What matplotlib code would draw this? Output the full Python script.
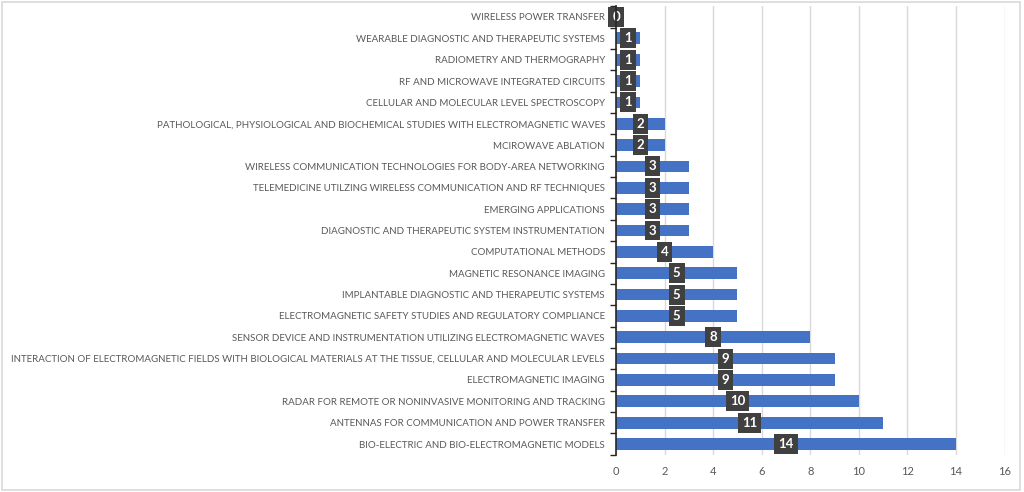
import matplotlib.pyplot as plt
from matplotlib.patches import Rectangle

# categories listed from bottom to top as drawn
categories = [
    "BIO-ELECTRIC AND BIO-ELECTROMAGNETIC MODELS",
    "ANTENNAS FOR COMMUNICATION AND POWER TRANSFER",
    "RADAR FOR REMOTE OR NONINVASIVE MONITORING AND TRACKING",
    "ELECTROMAGNETIC IMAGING",
    "INTERACTION OF ELECTROMAGNETIC FIELDS WITH BIOLOGICAL MATERIALS AT THE TISSUE, CELLULAR AND MOLECULAR LEVELS",
    "SENSOR DEVICE AND INSTRUMENTATION UTILIZING ELECTROMAGNETIC WAVES",
    "ELECTROMAGNETIC SAFETY STUDIES AND REGULATORY COMPLIANCE",
    "IMPLANTABLE DIAGNOSTIC AND THERAPEUTIC SYSTEMS",
    "MAGNETIC RESONANCE IMAGING",
    "COMPUTATIONAL METHODS",
    "DIAGNOSTIC AND THERAPEUTIC SYSTEM INSTRUMENTATION",
    "EMERGING APPLICATIONS",
    "TELEMEDICINE UTILZING WIRELESS COMMUNICATION AND RF TECHNIQUES",
    "WIRELESS COMMUNICATION TECHNOLOGIES FOR BODY-AREA NETWORKING",
    "MCIROWAVE ABLATION",
    "PATHOLOGICAL, PHYSIOLOGICAL AND BIOCHEMICAL STUDIES WITH ELECTROMAGNETIC WAVES",
    "CELLULAR AND MOLECULAR LEVEL SPECTROSCOPY",
    "RF AND MICROWAVE INTEGRATED CIRCUITS",
    "RADIOMETRY AND THERMOGRAPHY",
    "WEARABLE DIAGNOSTIC AND THERAPEUTIC SYSTEMS",
    "WIRELESS POWER TRANSFER",
]
counts = [14, 11, 10, 9, 9, 8, 5, 5, 5, 4, 3, 3, 3, 3, 2, 2, 1, 1, 1, 1, 0]
x_ticks = [0, 2, 4, 6, 8, 10, 12, 14, 16]

plt.rcParams['font.family'] = ['Lato', 'DejaVu Sans']

fig = plt.figure(figsize=(10.24, 4.92), dpi=100)
fig.patches.append(Rectangle((0.002, 0.004), 0.994, 0.992, transform=fig.transFigure,
                             fill=False, edgecolor="#d9d9d9", linewidth=1.2))
ax = fig.add_axes([0.6016, 0.0758, 0.3794, 0.9114])

pos = list(range(len(categories)))
ax.barh(pos, counts, height=0.55, color="#4472c4", zorder=2)

for p, v in zip(pos, counts):
    ax.text(v / 2, p, str(v), ha="center", va="center", color="white",
            fontsize=9.5, fontweight="bold", zorder=3,
            bbox=dict(boxstyle="square,pad=0.3", facecolor="#404040", edgecolor="none"))

ax.set_xlim(0, 16)
ax.set_ylim(-0.5, len(categories) - 0.5)
ax.set_xticks(x_ticks)
ax.set_yticks(pos)
ax.set_yticklabels(categories)
ax.set_yticks([p - 0.5 for p in pos] + [len(categories) - 0.5], minor=True)
ax.tick_params(axis="y", which="major", length=0, labelsize=7.0, labelcolor="#595959", pad=8)
ax.tick_params(axis="y", which="minor", length=4, color="#262626", width=1)
ax.tick_params(axis="x", length=0, labelsize=8, labelcolor="#595959", pad=8)

ax.grid(axis="x", color="#d9d9d9", linewidth=1, zorder=0)
for s in ["top", "right", "bottom"]:
    ax.spines[s].set_visible(False)
ax.spines["left"].set_color("#262626")
ax.spines["left"].set_linewidth(1.2)
ax.spines["left"].set_zorder(4)

fig.savefig("out.png", dpi=100)
